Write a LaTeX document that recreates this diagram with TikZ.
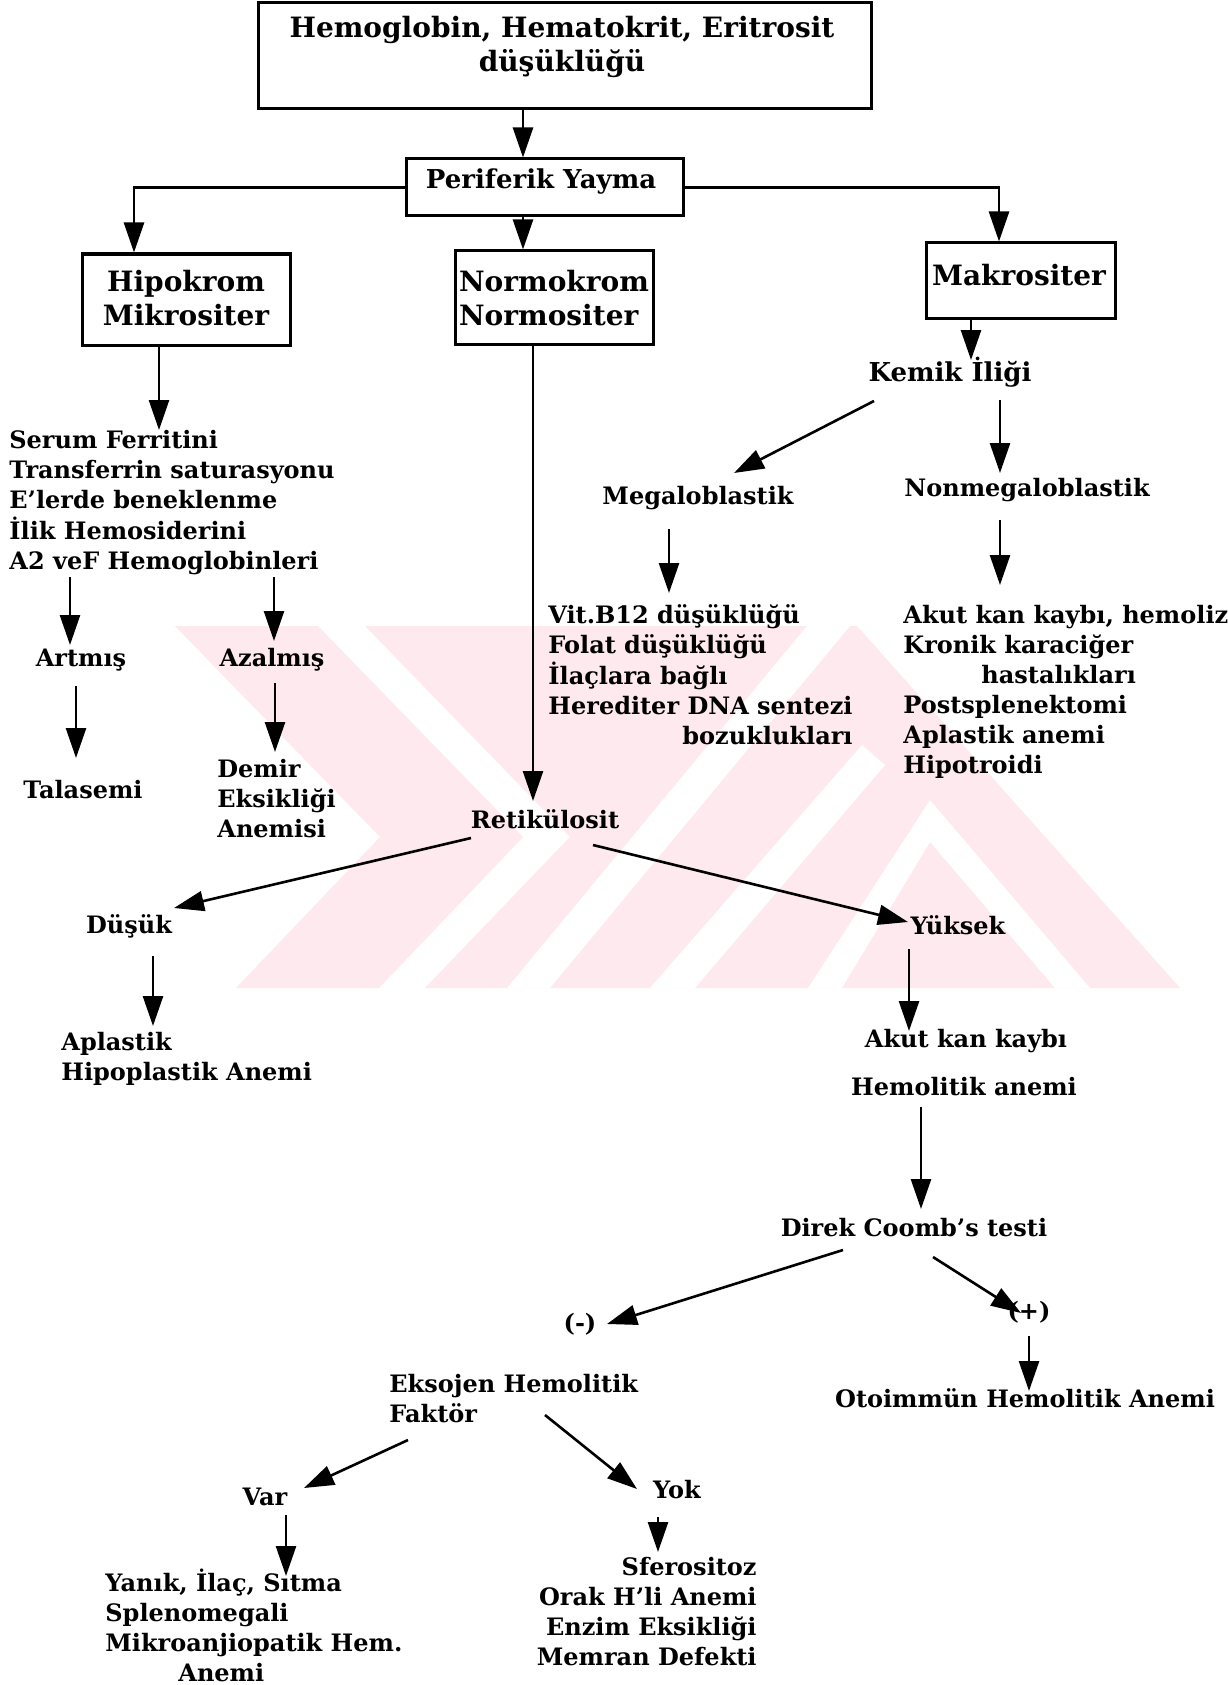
\documentclass[tikz,border=0pt]{standalone}
\usepackage{fontspec}
\setmainfont{DejaVu Serif}
\usetikzlibrary{arrows.meta,calc}
\definecolor{wm}{RGB}{253,233,238}
\begin{document}
\begin{tikzpicture}[x=0.5pt,y=-0.5pt,
  every node/.style={inner sep=0pt, font=\bfseries\fontsize{12}{15}\selectfont},
  box/.style={draw, line width=1.5pt, inner sep=0pt},
  arr/.style={line width=1.3pt, -{Triangle[length=15pt,width=10pt]}},
  big/.style={font=\bfseries\fontsize{14}{17}\selectfont, align=center}]
\useasboundingbox (0,0) rectangle (1227,1685);
\fill[white] (0,0) rectangle (1227,1685);
% watermark
\fill[wm] (175,626) -- (318,626) -- (523,837) -- (379,988) -- (236,988) -- (380,837) -- cycle;
\fill[wm] (365,626) -- (857,626) -- (1180,988) -- (425,988) -- (570,837) -- cycle;
\fill[white] (507,988) -- (550,988) -- (850,626) -- (807,626) -- cycle;
\fill[white] (650,988) -- (695,988) -- (885,765) -- (862,745) -- cycle;
\fill[white] (930,800) -- (1090,988) -- (1055,988) -- (930,842) -- (842,988) -- (808,988) -- cycle;
% boxes
\node[box, minimum width=306.5pt, minimum height=53pt] (top) at (564.5,56) {};
\node[big, font=\bfseries\fontsize{14}{17}\selectfont] (toptxt) at (562,47) {Hemoglobin, Hematokrit, Eritrosit\\düşüklüğü};
\node[box, minimum width=138.5pt, minimum height=28.5pt] (peri) at (544.5,187.5) {};
\node[font=\bfseries\fontsize{13}{15}\selectfont] (peritxt) at (541,182) {Periferik Yayma};
\node[box, minimum width=104pt, minimum height=45.5pt] (hipo) at (186,299.5) {};
\node[big] (hipotxt) at (186,298.5) {Hipokrom\\Mikrositer};
\node[box, minimum width=99pt, minimum height=46.5pt] (normo) at (554,297.5) {};
\node[big, align=left] (normotxt) at (554,298.5) {Normokrom\\Normositer};
\node[box, minimum width=94.5pt, minimum height=37.5pt] (makro) at (1020.5,280.5) {};
\node[big] (makrotxt) at (1019,275) {Makrositer};
% text nodes
\node[font=\bfseries\fontsize{13}{15}\selectfont] (kemik) at (950,372) {Kemik İliği};
\node (mega) at (698,498) {Megaloblastik};
\node (nonmega) at (1027,490) {Nonmegaloblastik};
\node[anchor=north west] (serum) at (9,427) {\begin{tabular}{@{}l@{}}Serum Ferritini\\Transferrin saturasyonu\\E'lerde beneklenme\\İlik Hemosiderini\\A2 veF Hemoglobinleri\end{tabular}};
\node (artmis) at (81,660) {Artmış};
\node (azalmis) at (272,660) {Azalmış};
\node (talasemi) at (83,790) {Talasemi};
\node[anchor=north west] (demir) at (217,756) {\begin{tabular}{@{}l@{}}Demir\\Eksikliği\\Anemisi\end{tabular}};
\node[anchor=north west] (vit) at (548,602) {\begin{tabular}{@{}l@{}}Vit.B12 düşüklüğü\\Folat düşüklüğü\\İlaçlara bağlı\\Herediter DNA sentezi\\\hfill bozuklukları\end{tabular}};
\node[anchor=north west] (akutb) at (903,602) {\begin{tabular}{@{}l@{}}Akut kan kaybı, hemoliz\\Kronik karaciğer\\\hspace*{39pt}hastalıkları\\Postsplenektomi\\Aplastik anemi\\Hipotroidi\end{tabular}};
\node (retik) at (545,819) {Retikülosit};
\node (dusuk) at (129,926) {Düşük};
\node (yuksek) at (958,925) {Yüksek};
\node[anchor=north west] (aplastik) at (61,1029) {\begin{tabular}{@{}l@{}}Aplastik\\Hipoplastik Anemi\end{tabular}};
\node (akut2) at (966,1041) {Akut kan kaybı};
\node (hemo) at (964,1087) {Hemolitik anemi};
\node (coomb) at (914,1228) {Direk Coomb's testi};
\node (neg) at (580,1324) {(-)};
\node (pos) at (1029,1312) {(+)};
\node (oto) at (1025,1398) {Otoimmün Hemolitik Anemi};
\node[anchor=north west] (eksojen) at (389,1371) {\begin{tabular}{@{}l@{}}Eksojen Hemolitik\\Faktör\end{tabular}};
\node (var) at (265,1497) {Var};
\node (yok) at (677,1490) {Yok};
\node[anchor=north west] (yanik) at (105,1569) {\begin{tabular}{@{}l@{}}Yanık, İlaç, Sıtma\\Splenomegali\\Mikroanjiopatik Hem.\\\hspace*{36.5pt}Anemi\end{tabular}};
\node[anchor=north east] (sfero) at (757,1554) {\begin{tabular}{@{}r@{}}Sferositoz\\Orak H'li Anemi\\Enzim Eksikliği\\Memran Defekti\end{tabular}};
% connectors
\draw[arr] ($(top.south)+(-41.5,0)$) -- ($(peri.north)+(-21.5,0)$);
\draw[arr] (peri.west) -| ($(hipo.north)+(-52,0)$);
\draw[arr] (peri.east) -| ($(makro.north)+(-21.5,0)$);
\draw[arr] ($(peri.south)+(-21.5,0)$) -- ($(normo.north)+(-31,0)$);
\draw[arr] ($(hipo.south)+(-27,0)$) -- ($(serum.north west)+(150,3)$);
\draw[arr] ($(normo.south)+(-21,0)$) -- ($(retik.center)+(-12,-18)$);
\draw[arr] ($(makro.south)+(-49.5,0)$) -- ($(kemik.center)+(21,-12)$);
\draw[arr] ($(kemik.center)+(-76,29)$) -- ($(mega.center)+(36,-25)$);
\draw[arr] ($(kemik.center)+(50,28)$) -- ($(nonmega.center)+(-27,-17)$);
\draw[arr] ($(mega.center)+(-29,31)$) -- ($(vit.north west)+(121,-9)$);
\draw[arr] ($(nonmega.center)+(-27,30)$) -- ($(akutb.north west)+(97,-17)$);
\draw[arr] ($(serum.north west)+(61,150)$) -- ($(artmis.center)+(-11,-15)$);
\draw[arr] ($(serum.north west)+(265,150)$) -- ($(azalmis.center)+(2,-19)$);
\draw[arr] ($(artmis.center)+(-5,26)$) -- ($(talasemi.center)+(-7,-32)$);
\draw[arr] ($(azalmis.center)+(3,23)$) -- ($(demir.north west)+(58,-4)$);
\draw[arr] ($(retik.center)+(-74,19)$) -- ($(dusuk.center)+(45,-18)$);
\draw[arr] ($(retik.center)+(48,26)$) -- ($(yuksek.center)+(-50,-3)$);
\draw[arr] ($(dusuk.center)+(24,30)$) -- ($(aplastik.north west)+(92,-3)$);
\draw[arr] ($(yuksek.center)+(-49,24)$) -- ($(akut2.center)+(-57,-10)$);
\draw[arr] ($(hemo.center)+(-43,20)$) -- ($(coomb.center)+(7,-19)$);
\draw[arr] ($(coomb.center)+(-71,22)$) -- ($(neg.center)+(27,0)$);
\draw[arr] ($(coomb.center)+(19,29)$) -- ($(pos.center)+(-8,1)$);
\draw[arr] ($(pos.center)+(0,24)$) -- ($(oto.center)+(4,-7)$);
\draw[arr] ($(eksojen.north west)+(19,69)$) -- ($(var.center)+(39,-9)$);
\draw[arr] ($(eksojen.north west)+(156,44)$) -- ($(yok.center)+(-40,-1)$);
\draw[arr] ($(var.center)+(21,18)$) -- ($(yanik.north west)+(181,7)$);
\draw[arr] ($(yok.center)+(-19,27)$) -- ($(sfero.north east)+(-99,-2)$);
\end{tikzpicture}
\end{document}
